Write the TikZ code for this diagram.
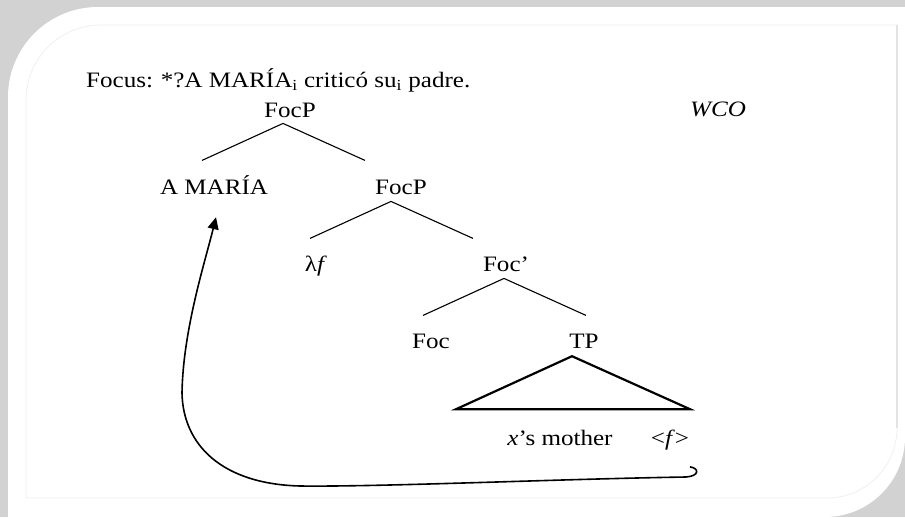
\documentclass[tikz,border=0pt]{standalone}
\usepackage{fontspec}
\setmainfont{Liberation Serif}[FakeStretch=1.14]
\usetikzlibrary{arrows.meta}

\begin{document}
\begin{tikzpicture}[x=1pt, y=-1pt,
        w/.style={anchor=base, inner sep=2pt, font=\fontsize{22}{26}\selectfont},
        e/.style={line width=1.1pt},
        tri/.style={line width=2.2pt, line join=miter},
        mv/.style={line width=1.6pt, -{Triangle[length=12pt, width=11pt]}}]
    \useasboundingbox (0,0) rectangle (905,517);

    % card with its frame
    \fill[gray!35] (0,0) rectangle (905,517);
    \fill[white] (8,517) -- (8,97) .. controls (8,47.3) and (48.3,7) .. (98,7)
        -- (905,7) -- (905,437) .. controls (905,481.2) and (869.2,517) .. (825,517) -- cycle;
    \draw[gray!12, line width=.8pt] (26,498) -- (26,100) .. controls (26,58.6) and (59.6,25) .. (101,25)
        -- (897,25) -- (897,428) .. controls (897,466.7) and (865.7,498) .. (827,498) -- cycle;
    \draw[gray!22, line width=2pt] (897,25) -- (897,428);

    \node[w, anchor=base west] (title) at (84,87) {Focus:\hspace{.35em}*?A MARÍA\textsubscript{i} criticó su\textsubscript{i} padre.};
    \node[w] (foc1) at (290,117) {FocP};
    \node[w] (wco) at (718,116) {\textit{WCO}};
    \node[w] (amaria) at (214,194) {A MARÍA};
    \node[w] (foc2) at (401,194) {FocP};
    \node[w] (lam) at (316,271) {λ\textit{f}};
    \node[w] (focbar) at (506,271) {Foc’};
    \node[w] (foc) at (431,348) {Foc};
    \node[w] (tp) at (584,348) {TP};
    \node[w] (mother) at (560,445) {\textit{x}’s mother};
    \node[w] (fvar) at (670,445) {<\textit{f}>};

    \coordinate (k1) at ([xshift=-7pt, yshift=-4pt]foc1.south);
    \coordinate (k2) at ([xshift=-10pt, yshift=-5pt]foc2.south);
    \coordinate (k3) at ([xshift=-2pt, yshift=-5pt]focbar.south);
    \coordinate (k4) at ([xshift=-12pt, yshift=-6pt]tp.south);

    \foreach \k in {k1,k2,k3}
        \draw[e] (\k) ++(-81,37) -- (\k) -- ++(82,37);
    \draw[tri] (k4) -- ++(-116,53) -- ++(234,0) -- cycle;

    % movement back up to the focus
    \coordinate (gap) at ([xshift=20pt, yshift=-15pt]fvar.south);
    \draw[mv] (gap) .. controls (699,468) and (700,476) .. (686,477)
        .. controls (560,479) and (380,487) .. (300,486)
        .. controls (222,484) and (183,445) .. (182,393)
        .. controls (183,330) and (205,262) .. ([xshift=2pt, yshift=-21pt]amaria.south);
\end{tikzpicture}
\end{document}
